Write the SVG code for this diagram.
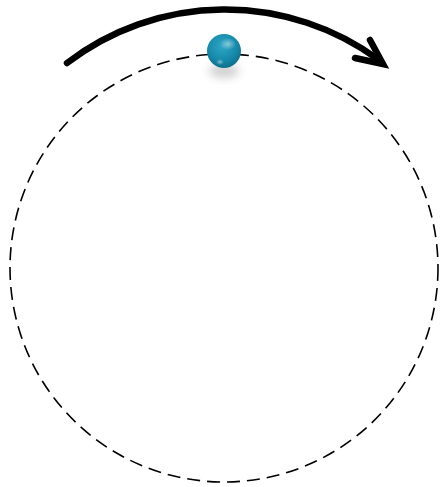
<svg xmlns="http://www.w3.org/2000/svg" width="443" height="487" viewBox="0 0 443 487">
  <defs>
    <radialGradient id="ballGrad" cx="0.45" cy="0.35" r="0.7">
      <stop offset="0" stop-color="#2fa6c6"/>
      <stop offset="0.6" stop-color="#168aab"/>
      <stop offset="1" stop-color="#0d6a88"/>
    </radialGradient>
    <radialGradient id="hl" cx="0.5" cy="0.5" r="0.5">
      <stop offset="0" stop-color="#ffffff" stop-opacity="0.45"/>
      <stop offset="1" stop-color="#ffffff" stop-opacity="0"/>
    </radialGradient>
    <filter id="blur" x="-50%" y="-50%" width="200%" height="200%">
      <feGaussianBlur stdDeviation="4"/>
    </filter>
    <style>
      .orbit { fill: none; stroke: #000; stroke-width: 1.6; stroke-dasharray: 13 7; }
      .arrow { fill: none; stroke: #000; stroke-width: 6.5; stroke-linecap: round; }
    </style>
  </defs>
  <rect width="443" height="487" fill="#fff"/>
  <g id="orbit">
    <circle class="orbit" cx="224" cy="268" r="214"/>
  </g>
  <g id="connectors">
    <path class="arrow" d="M67,63 A260,260 0 0 1 379,60"/>
    <path class="arrow" d="M370,40 L383,64 L355,58" stroke-linejoin="miter"/>
  </g>
  <g id="ball">
    <ellipse cx="224" cy="71" rx="15" ry="7" fill="#999" opacity="0.45" filter="url(#blur)"/>
    <circle cx="224" cy="51" r="17" fill="url(#ballGrad)"/>
    <ellipse cx="228" cy="44" rx="8" ry="6" fill="url(#hl)"/>
    <ellipse cx="220" cy="62" rx="4" ry="3" fill="url(#hl)"/>
  </g>
</svg>
